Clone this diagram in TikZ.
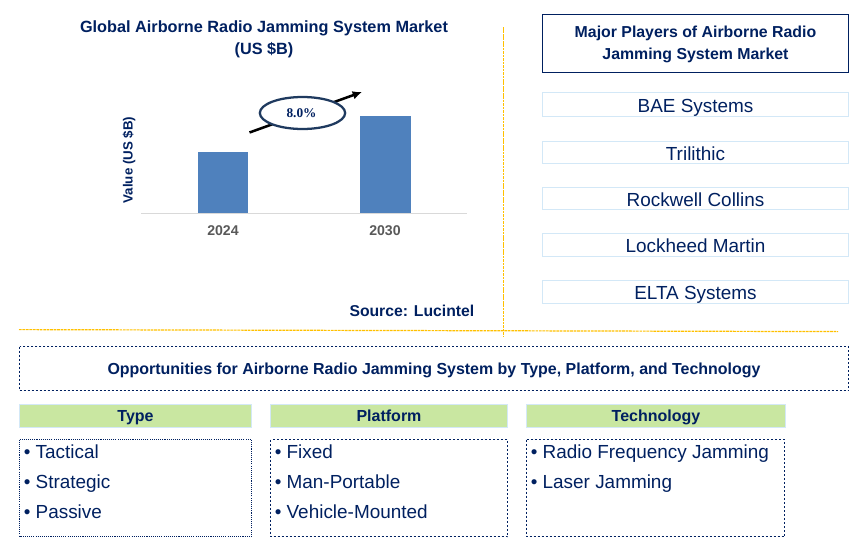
\documentclass[tikz,border=0pt]{standalone}
\usepackage{fontspec}
\setmainfont{Liberation Sans}
\newfontfamily\badgefont{Liberation Serif}
\usetikzlibrary{arrows.meta,shapes.geometric}
\definecolor{navy}{HTML}{002060}
\definecolor{barblue}{HTML}{4F81BD}
\definecolor{headgreen}{HTML}{C9E7A1}
\definecolor{paleblue}{HTML}{D3E8F7}
\definecolor{ruleyellow}{HTML}{FFC000}
\definecolor{axisgray}{HTML}{D9D9D9}
\definecolor{yeargray}{HTML}{595959}
\definecolor{ringblue}{HTML}{1F3A5F}
\tikzset{
	headtext/.style={anchor=base, text=navy, font=\fontsize{12pt}{14pt}\selectfont\bfseries},
	itemtext/.style={anchor=base west, text=navy, font=\fontsize{14.2pt}{16pt}\selectfont},
	playertext/.style={anchor=base, text=navy, font=\fontsize{14.2pt}{16pt}\selectfont},
	yeartext/.style={anchor=base, text=yeargray, font=\fontsize{10.6pt}{12pt}\selectfont\bfseries},
	playerbox/.style={draw=paleblue, line width=0.9pt},
	listbox/.style={draw=navy, line width=0.8pt, dash pattern=on 1.5pt off 1.5pt},
	yellowrule/.style={draw=ruleyellow, line width=0.9pt, dash pattern=on 2pt off 0.6pt}
}

\begin{document}
\begin{tikzpicture}[x=0.75pt, y=-0.75pt]
		%%%%% FRAME %%%%%
		\useasboundingbox (0, 0) rectangle (868, 557);
		
		%%%%% CHART %%%%%
		\node[headtext, font=\fontsize{12.2pt}{14pt}\selectfont\bfseries] (charttitle) at (264, 32.3) {Global Airborne Radio Jamming System Market};
		\node[headtext, font=\fontsize{12.2pt}{14pt}\selectfont\bfseries] (chartunit) at (264, 54.2) {(US \$B)};
		\node[anchor=base, rotate=90, text=navy, font=\fontsize{10pt}{12pt}\selectfont\bfseries] (yaxis) at (132.7, 160) {Value (US \$B)};
		
		\fill[barblue] (198, 152) rectangle (248, 213);
		\fill[barblue] (360, 116) rectangle (411, 213);
		\draw[axisgray, line width=0.8pt] (141, 213.3) -- (467, 213.3);
		\node[yeartext] (year2024) at (223, 235) {2024};
		\node[yeartext] (year2030) at (385, 235) {2030};
		
		\coordinate (arrowstart) at (249.5, 132.5);
		\coordinate (arrowend) at (362, 92);
		\draw[-{Latex[length=7pt, width=6.5pt]}, line width=1.9pt] (arrowstart) -- (arrowend);
		\node[ellipse, draw=ringblue, fill=white, line width=1.7pt, inner sep=0pt, minimum width=64pt, minimum height=24pt] (cagr) at (302.5, 113) {};
		\node[anchor=base, text=navy, font=\badgefont\fontsize{10pt}{12pt}\selectfont\bfseries] (cagrtext) at (301.5, 117) {8.0\%};
		
		\node[headtext, anchor=base east, inner sep=0pt, font=\fontsize{11.8pt}{14pt}\selectfont\bfseries] (source) at (474.5, 316) {Source: Lucintel};
		
		%%%%% RULES %%%%%
		\draw[yellowrule] (503.5, 27) -- (503.5, 336.5);
		\draw[yellowrule] (19, 329.6) -- (838, 331.6);
		
		%%%%% PLAYERS %%%%%
		\draw[navy, line width=1pt] (542.5, 14.5) rectangle (848.5, 72.5);
		\node[headtext, font=\fontsize{11.9pt}{14pt}\selectfont\bfseries] (playerstitle) at (695.5, 37.9) {Major Players of Airborne Radio};
		\node[headtext, font=\fontsize{11.9pt}{14pt}\selectfont\bfseries] (playerstitleb) at (695.5, 59.2) {Jamming System Market};
		
		\foreach \i/\ytop/\ybot/\ybase/\company in {1/92.5/116.5/112/BAE Systems, 2/141.5/163.5/160/Trilithic, 3/187.5/209.5/206/Rockwell Collins, 4/233.5/256.5/252/Lockheed Martin, 5/280.5/303.5/299.2/ELTA Systems} {
			\draw[playerbox] (542.5, \ytop) rectangle (848.5, \ybot);
			\node[playertext] (player\i) at (695.5, \ybase) {\company};
		}
		
		%%%%% OPPORTUNITIES %%%%%
		\draw[listbox] (19.5, 346.5) rectangle (848.5, 390.5);
		\node[headtext, font=\fontsize{11.97pt}{14pt}\selectfont\bfseries] (opptitle) at (434, 374) {Opportunities for Airborne Radio Jamming System by Type, Platform, and Technology};
		
		\foreach \i/\xleft/\xright/\xmid/\heading in {1/19.5/251.5/135.5/Type, 2/270.5/507.5/389/Platform, 3/526.5/785/656/Technology} {
			\draw[paleblue, fill=headgreen, line width=0.6pt] (\xleft, 404.5) rectangle (\xright, 427.5);
			\node[headtext] (heading\i) at (\xmid, 421.2) {\heading};
		}
		
		\draw[navy, line width=0.8pt, dash pattern=on 0.8pt off 0.8pt] (19.5, 439.5) rectangle (251.5, 536.5);
		\draw[listbox] (270.5, 439.5) rectangle (507.5, 536.5);
		\draw[listbox] (526.5, 439.5) rectangle (784.5, 536.5);
		
		\foreach \i/\xpos/\ybase/\entry in {1/23.5/458.7/Tactical, 2/23.5/488.7/Strategic, 3/23.5/518.7/Passive, 4/274.5/458.7/Fixed, 5/274.5/488.7/Man-Portable, 6/274.5/518.7/Vehicle-Mounted, 7/530.5/458.7/Radio Frequency Jamming, 8/530.5/488.7/Laser Jamming} {
			\node[itemtext, inner sep=0pt] (item\i) at (\xpos, \ybase) {• \entry};
		}
		
		%%%%% END %%%%%
	\end{tikzpicture}
\end{document}
